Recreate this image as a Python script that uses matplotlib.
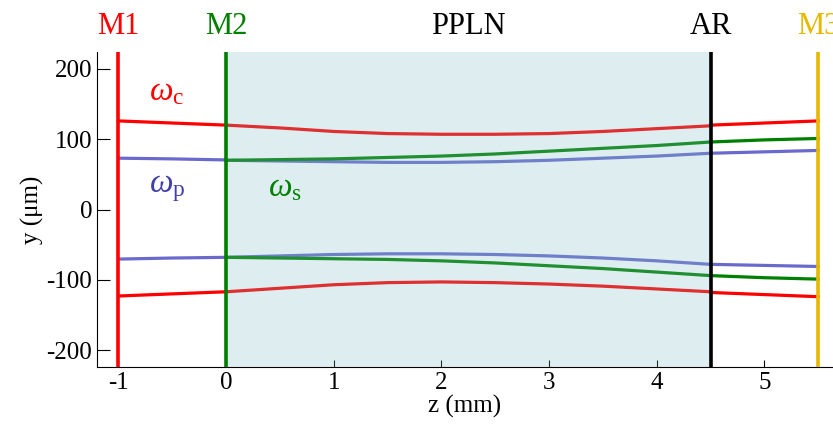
import numpy as np
import matplotlib
matplotlib.use("Agg")
import matplotlib.pyplot as plt

plt.rcParams["font.family"] = ["Liberation Serif", "DejaVu Serif"]
plt.rcParams["mathtext.fontset"] = "custom"
plt.rcParams["mathtext.rm"] = "Liberation Serif"
plt.rcParams["mathtext.it"] = "Liberation Serif:italic"
plt.rcParams["axes.unicode_minus"] = False

# beam radii (um)
z_left = [-1.0, -0.5, 0.0]
z_mid = [0.0, 0.5, 1.0, 1.5, 2.0, 2.5, 3.0, 3.5, 4.0, 4.5]
z_right = [4.5, 5.0, 5.5]

c_left_up = [126, 123, 120]
c_left_lo = [-123, -120, -117]
p_left_up = [73, 72, 70.5]
p_left_lo = [-70.5, -69, -68]

c_mid_up = [120, 116, 111, 108, 107, 107, 108, 111, 115, 119]
c_mid_lo = [-117, -112, -107, -104, -103, -104, -106, -109, -113, -117]
p_mid_up = [70, 69, 68, 67, 67, 68, 70, 73, 76, 80]
p_mid_lo = [-68, -66, -64, -63, -63, -64, -66, -69, -73, -78]
s_mid_up = [70, 71, 72, 74, 76, 79, 83, 87, 91, 96]
s_mid_lo = [-68, -69, -70, -71, -73, -76, -80, -84, -89, -94]

c_right_up = [120, 123, 126]
c_right_lo = [-118, -121, -124]
s_right_up = [96, 99, 101]
s_right_lo = [-94, -97, -99]
p_right_up = [80, 82, 84]
p_right_lo = [-78, -79.5, -81]

elements = ["M1", "M2", "AR", "M3"]
element_z = [-1.0, 0.0, 4.5, 5.5]
element_col = ["#ff0000", "#007f00", "#000000", "#e6b800"]

red = "#ff0000"
green = "#008000"
blue = "#6a6acc"

fig = plt.figure(figsize=(8.33, 4.28), dpi=100)
ax = fig.add_axes([0.1164, 0.1425, 0.8836, 0.736])

lw = 2.3
for z, up, lo, col in [(z_left, c_left_up, c_left_lo, red),
                       (z_left, p_left_up, p_left_lo, blue),
                       (z_mid, c_mid_up, c_mid_lo, red),
                       (z_mid, p_mid_up, p_mid_lo, blue),
                       (z_mid, s_mid_up, s_mid_lo, green),
                       (z_right, c_right_up, c_right_lo, red),
                       (z_right, s_right_up, s_right_lo, green),
                       (z_right, p_right_up, p_right_lo, blue)]:
    ax.plot(z, up, color=col, lw=lw, zorder=2)
    ax.plot(z, lo, color=col, lw=lw, zorder=2)

# crystal region
ax.axvspan(0, 4.5, color="#7fbfc4", alpha=0.25, lw=0, zorder=3)
ax.text(2.25, 1.035, "PPLN", transform=ax.get_xaxis_transform(),
        ha="center", va="bottom", fontsize=22)

for name, z, col in zip(elements, element_z, element_col):
    ax.axvline(z, color=col, lw=2.6, zorder=4)
    ax.text(z, 1.035, name, color=col, transform=ax.get_xaxis_transform(),
            ha="center", va="bottom", fontsize=22, clip_on=False)

ax.text(-0.55, 167, r"$\omega_{\rm c}$", color=red, fontsize=24, ha="center", va="center")
ax.text(-0.55, 30, r"$\omega_{\rm p}$", color="#4040a8", fontsize=24, ha="center", va="center")
ax.text(0.55, 30, r"$\omega_{\rm s}$", color=green, fontsize=24, ha="center", va="center", zorder=5)

ax.set_xlim(-1.2, 5.638)
ax.set_ylim(-224, 224)
ax.set_xticks([-1, 0, 1, 2, 3, 4, 5])
ax.set_yticks([-200, -100, 0, 100, 200])
ax.tick_params(direction="in", labelsize=18, length=5, width=0.8)
ax.tick_params(axis="y", length=9)
ax.spines["top"].set_visible(False)
ax.spines["right"].set_visible(False)
ax.set_xlabel("z (mm)", fontsize=18, labelpad=1)
ax.set_ylabel("y (\u03bcm)", fontsize=18, labelpad=2)

fig.savefig("out.png", dpi=100)
